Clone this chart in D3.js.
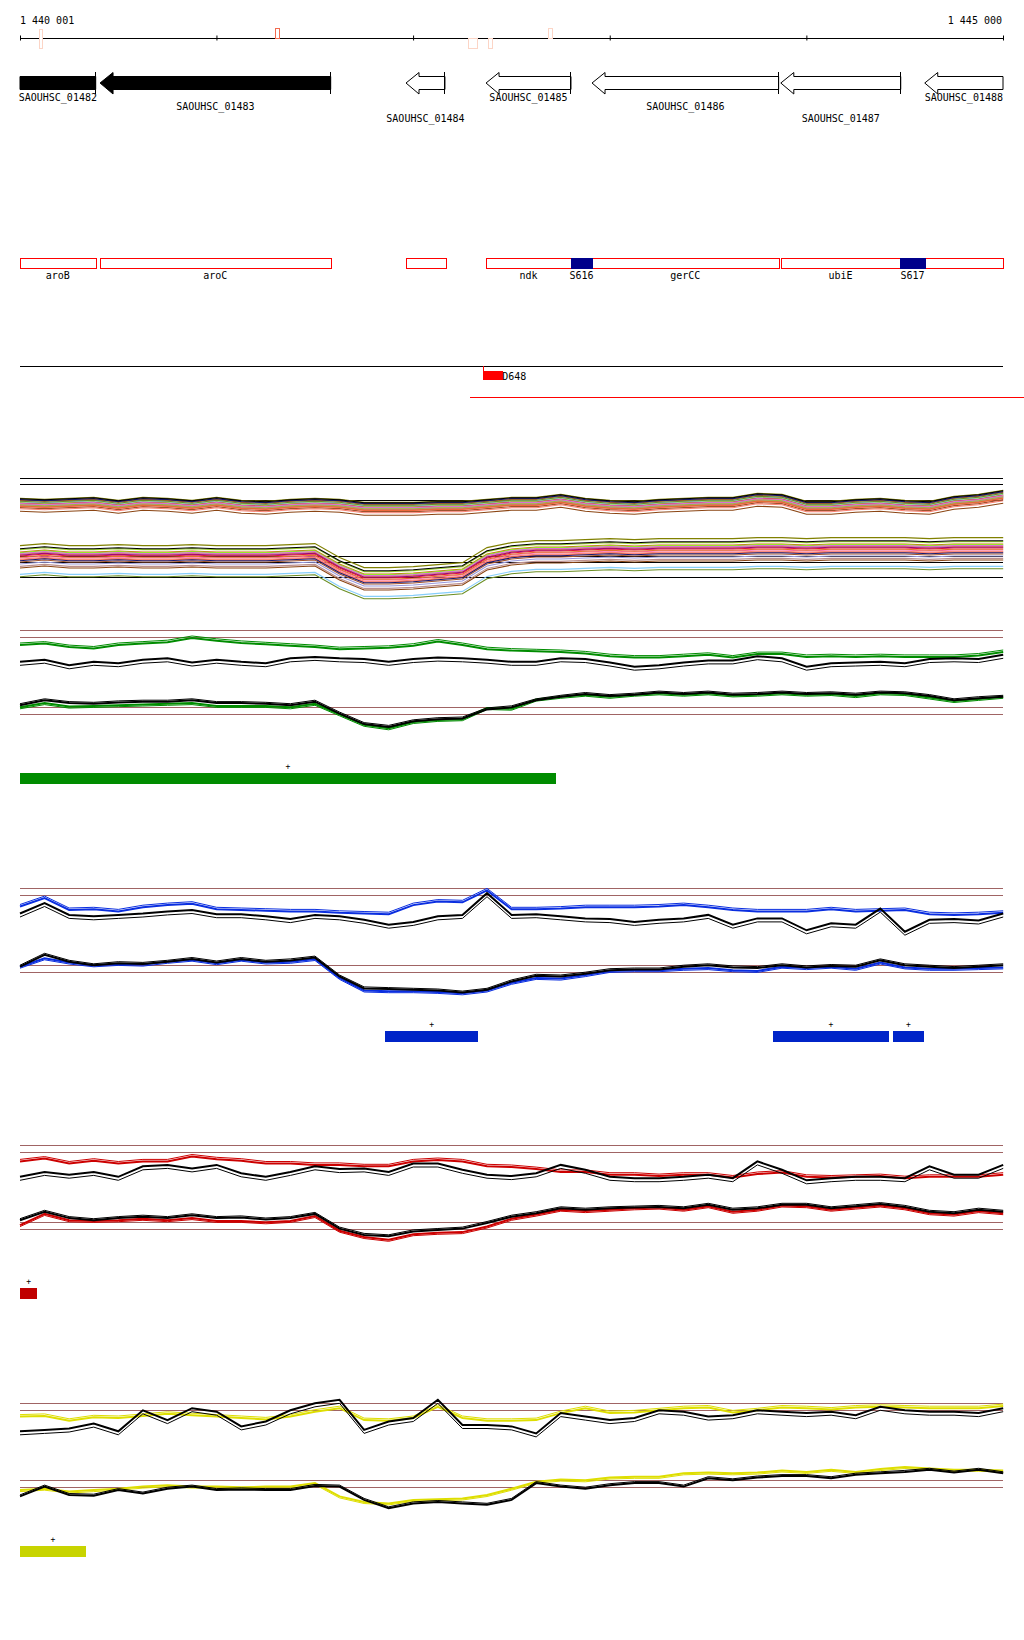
<!DOCTYPE html>
<html>
<head>
<meta charset="utf-8">
<script src="https://cdn.jsdelivr.net/npm/d3@7"></script>
<style>
  body { margin: 0; background: #fff; }
  text { font-family: "DejaVu Sans Mono", "Liberation Mono", monospace; font-size: 10px; fill: #000; }
</style>
</head>
<body>
<script>
// ---- region shown ----
const startBp = 1440001, endBp = 1445000;
const axisTicks = [1440001, 1441000, 1442000, 1443000, 1444000, 1445000];
const axisLabels = ["1 440 001", "1 445 000"];

// small sites on the ruler: [start, end, side, colour key]
const siteStarts = [1440098, 1441298, 1442279, 1442381, 1442686];
const siteEnds   = [1440111, 1441318, 1442325, 1442401, 1442706];
const siteSides  = ["both", "up", "down", "down", "up"];
const siteKinds  = ["pale", "strong", "pale", "pale", "pale"];

// genes
const geneNames  = ["SAOUHSC_01482", "SAOUHSC_01483", "SAOUHSC_01484", "SAOUHSC_01485", "SAOUHSC_01486", "SAOUHSC_01487", "SAOUHSC_01488"];
const geneStarts = [1439700, 1440408, 1441964, 1442371, 1442910, 1443870, 1444602];
const geneEnds   = [1440386, 1441581, 1442162, 1442803, 1443859, 1444480, 1445300];
const geneFilled = [true, true, false, false, false, false, false];
const geneRows   = [0, 1, 2, 0, 1, 2, 0];

// annotation features
const featNames  = ["aroB", "aroC", "", "ndk", "S616", "gerCC", "ubiE", "S617", ""];
const featStarts = [1439700, 1440408, 1441964, 1442371, 1442803, 1442910, 1443871, 1444476, 1444604];
const featEnds   = [1440386, 1441581, 1442166, 1442803, 1442910, 1443859, 1444476, 1444604, 1445300];
const featTypes  = ["cds", "cds", "cds", "cds", "srna", "cds", "cds", "srna", "cds"];

// region track
const regionName = "D648";
const regionStart = 1442356, regionEnd = 1442458;
const regionLineStart = 1442289, regionLineEnd = 1445200;

// profile bins (125 bp)
const binStep = 125;
const bins = d3.range(41).map(i => startBp + i * binStep);

// multi-condition cluster track
const clusterTopShape = [24.0,23.75,24.0,24.25,23.5,24.25,24.0,23.5,24.25,23.5,23.25,23.75,24.0,23.75,23.0,23.0,23.0,23.25,23.25,23.75,24.25,24.25,25.0,24.0,23.5,23.25,23.75,24.0,24.25,24.25,25.25,25.0,23.25,23.25,23.75,24.0,23.5,23.25,24.5,25.0,26.0];
const clusterBotShape = [11.0,11.5,11.0,11.0,11.25,11.0,11.0,11.25,11.0,11.0,11.0,11.25,11.5,8.0,5.5,5.5,5.75,6.25,6.75,10.5,11.75,12.25,12.25,12.5,12.75,12.5,12.75,12.75,12.75,12.75,13.0,13.0,12.75,13.0,13.0,13.0,13.0,12.75,13.0,13.0,13.0];
const clusterColors = ["#808000","#d2691e","#cd853f","#7cfc00","#ff69b4","#8b008b","#87cefa","#a0522d","#dc143c","#9999dd","#ff6347","#191970","#bc8f8f","#9acd32","#fa8072","#8b4513","#da70d6","#000000","#e07030","#6b8e23"];
const clusterTopOffsets = [1.4, 0.9, 0.5, 0.3, 0.0, -0.2, 0.6, -0.9, 0.2, -0.4, -0.6, 1.1, -0.3, -0.1, -1.2, -1.8, 0.1, 1.3, -0.5, 0.7];
const clusterBotOffsets = [2.6, 1.0, 0.4, 0.8, -0.5, 0.2, -4.6, -1.5, 0.0, -2.0, -1.0, -1.2, -2.6, 1.6, -0.8, -3.0, 0.6, 1.8, -0.3, -5.2];
const clusterRefs = [30.5, 29, 25, 11, 9.5, 5.75];

// condition panels (log signal)
const panelRefs = [12, 11, 1, 0];

const greenTop         = [9.9,10.1,9.6,9.4,9.9,10.1,10.3,10.9,10.5,10.2,10.0,9.8,9.6,9.3,9.4,9.5,9.8,10.4,9.9,9.3,9.1,9.0,8.9,8.7,8.3,8.1,8.1,8.3,8.5,8.1,8.6,8.6,8.2,8.3,8.2,8.3,8.2,8.2,8.2,8.4,8.9];
const greenTopBlack    = [7.5,7.8,7.0,7.5,7.3,7.8,8.0,7.4,7.8,7.5,7.3,8.0,8.2,8.0,7.9,7.5,7.9,8.1,8.0,7.8,7.5,7.5,8.0,7.9,7.4,6.8,7.0,7.4,7.7,7.7,8.3,8.0,6.8,7.3,7.4,7.5,7.3,7.9,8.0,7.9,8.5];
const greenBottom      = [1.0,1.6,1.1,1.2,1.3,1.4,1.5,1.6,1.2,1.2,1.2,1.0,1.5,0.0,-1.5,-2.0,-1.1,-0.8,-0.7,0.9,0.8,2.1,2.5,2.8,2.5,2.8,3.0,2.8,3.0,2.7,2.8,3.0,2.8,2.9,2.6,3.0,2.9,2.4,1.9,2.2,2.5];
const greenBottomBlack = [1.3,2.0,1.6,1.5,1.7,1.8,1.8,2.0,1.6,1.6,1.5,1.3,1.8,0.1,-1.4,-1.8,-1.0,-0.7,-0.6,0.7,1.0,2.0,2.5,2.9,2.6,2.8,3.1,2.9,3.1,2.8,2.9,3.1,2.9,3.0,2.8,3.1,3.0,2.6,2.0,2.3,2.5];
const greenBlockStarts = [1440001];
const greenBlockEnds   = [1442727];

const blueTop          = [9.4,10.6,8.9,9.0,8.7,9.3,9.6,9.8,9.0,8.9,8.8,8.7,8.7,8.5,8.4,8.3,9.6,10.1,10.0,11.7,9.0,9.0,9.1,9.3,9.3,9.3,9.4,9.6,9.3,8.9,8.7,8.7,8.7,9.0,8.7,8.8,8.9,8.3,8.2,8.3,8.5];
const blueTopBlack     = [8.4,9.9,8.2,8.0,8.2,8.4,8.7,8.9,8.3,8.3,8.0,7.6,8.2,8.0,7.5,6.8,7.2,8.0,8.2,11.3,8.2,8.3,8.0,7.7,7.6,7.2,7.5,7.7,8.2,6.8,7.7,7.7,6.0,7.0,6.8,9.1,5.8,7.5,7.6,7.4,8.4];
const blueBottom       = [0.8,2.0,1.4,1.0,1.2,1.1,1.5,1.8,1.3,1.8,1.4,1.5,1.9,-0.8,-2.6,-2.7,-2.7,-2.8,-3.0,-2.6,-1.5,-0.8,-0.9,-0.4,0.2,0.3,0.3,0.5,0.6,0.3,0.2,0.8,0.6,0.8,0.5,1.4,0.7,0.5,0.5,0.6,0.7];
const blueBottomBlack  = [0.8,2.5,1.5,1.0,1.3,1.2,1.5,1.9,1.4,1.9,1.5,1.7,2.1,-0.6,-2.3,-2.4,-2.5,-2.6,-2.9,-2.5,-1.3,-0.5,-0.6,-0.2,0.3,0.4,0.4,0.8,1.0,0.7,0.6,1.0,0.7,0.9,0.8,1.7,1.0,0.8,0.6,0.8,1.0];
const blueBlockStarts  = [1441859, 1443830, 1444440];
const blueBlockEnds    = [1442330, 1444420, 1444598];

const redTop           = [9.7,10.1,9.4,9.8,9.4,9.7,9.7,10.4,10.0,9.8,9.4,9.4,9.2,9.2,9.0,9.0,9.7,9.9,9.7,9.0,8.9,8.6,8.2,8.2,7.8,7.8,7.6,7.8,7.8,7.4,7.9,8.1,7.5,7.4,7.5,7.6,7.3,7.5,7.5,7.5,7.8];
const redTopBlack      = [7.5,8.2,7.8,8.2,7.5,9.0,9.2,8.7,9.2,8.0,7.5,8.2,9.0,8.6,8.7,8.2,9.4,9.4,8.5,7.8,7.6,8.0,9.2,8.5,7.5,7.3,7.3,7.5,7.8,7.3,9.7,8.5,7.0,7.3,7.5,7.5,7.3,9.0,7.8,7.8,9.2];
const redBottom        = [0.6,2.2,1.3,1.2,1.3,1.5,1.3,1.6,1.2,1.2,1.0,1.2,1.9,-0.2,-1.1,-1.5,-0.7,-0.5,-0.4,0.4,1.5,2.1,2.8,2.6,2.8,3.0,3.1,2.8,3.3,2.5,2.8,3.4,3.3,2.8,3.1,3.4,3.0,2.3,2.1,2.6,2.3];
const redBottomBlack   = [1.3,2.5,1.6,1.3,1.6,1.8,1.6,2.0,1.6,1.7,1.4,1.6,2.2,0.1,-0.8,-1.0,-0.3,-0.1,0.1,0.9,1.8,2.3,3.0,2.8,3.0,3.1,3.2,3.0,3.5,2.8,3.0,3.5,3.5,3.0,3.3,3.6,3.2,2.5,2.3,2.8,2.5];
const redBlockStarts   = [1440001];
const redBlockEnds     = [1440088];

const yellowTop         = [10.1,10.2,9.5,10.0,9.9,10.2,10.5,10.3,10.1,9.9,9.7,10.1,10.8,11.3,9.6,9.5,9.9,11.5,9.9,9.5,9.5,9.6,10.6,11.3,10.6,10.7,11.0,11.3,11.4,10.7,11.0,11.4,11.3,11.1,11.4,11.5,11.4,11.3,11.3,11.3,11.6];
const yellowTopBlack    = [8.0,8.2,8.4,9.1,8.0,11.0,9.6,11.3,10.8,8.7,9.4,11.0,12.0,12.5,8.2,9.4,9.9,12.5,8.9,8.9,8.7,7.7,10.6,10.1,9.6,9.9,11.0,10.8,10.1,10.3,11.0,10.8,10.6,10.8,10.3,11.5,11.0,10.8,10.8,10.6,11.3];
const yellowBottom      = [-0.4,-0.2,-0.6,-0.4,-0.2,0.1,0.3,0.1,0.1,0.0,0.1,0.1,0.6,-1.3,-2.1,-2.3,-1.8,-1.7,-1.6,-1.1,-0.2,0.8,1.1,1.0,1.4,1.5,1.5,2.0,2.1,2.0,2.1,2.4,2.2,2.5,2.2,2.6,2.9,2.7,2.5,2.5,2.4];
const yellowBottomBlack = [-1.3,0.1,-1.1,-1.2,-0.4,-0.9,-0.2,0.1,-0.4,-0.3,-0.4,-0.4,0.2,0.1,-1.8,-3.0,-2.3,-2.1,-2.3,-2.5,-1.8,0.6,0.1,-0.2,0.3,0.6,0.6,0.1,1.3,1.0,1.4,1.6,1.6,1.3,1.8,2.0,2.2,2.5,2.1,2.5,2.0];
const yellowBlockStarts = [1440001];
const yellowBlockEnds   = [1440335];

// ---- drawing ----
const W = 1024, H = 1640;
const left = 20, right = 1003;

const x = d3.scaleLinear().domain([startBp, endBp]).range([left, right]);
const clampX = bp => x(Math.max(startBp, Math.min(endBp, bp)));

const svg = d3.select("body").append("svg")
  .attr("width", W).attr("height", H);

svg.append("rect").attr("width", W).attr("height", H).attr("fill", "#fff");

// ruler
const ruler = svg.append("g").attr("transform", "translate(0,38)");
ruler.call(d3.axisBottom(x).tickValues(axisTicks).tickSizeOuter(0).tickFormat(""));
ruler.select(".domain").attr("stroke", "#000");
ruler.selectAll(".tick line").attr("y1", -2.5).attr("y2", 2.5).attr("stroke", "#000");

svg.append("text").attr("x", left).attr("y", 24).text(axisLabels[0]);
svg.append("text").attr("x", right - 1).attr("y", 24).attr("text-anchor", "end").text(axisLabels[1]);

// sites on the ruler
siteStarts.forEach((s, i) => {
  let y0 = 28, y1 = 38;
  if (siteSides[i] == "both") { y0 = 29; y1 = 48; }
  if (siteSides[i] == "down") { y0 = 38; y1 = 48; }
  svg.append("rect")
    .attr("x", x(s) + 0.5).attr("y", y0 + 0.5)
    .attr("width", Math.max(2, x(siteEnds[i]) - x(s)))
    .attr("height", y1 - y0)
    .attr("fill", "#fff")
    .attr("stroke", siteKinds[i] == "strong" ? "#f26b4f" : "#fcd5c6")
    .attr("shape-rendering", "crispEdges");
});

// genes
const genes = svg.append("g");
geneNames.forEach((name, i) => {
  const clipL = geneStarts[i] < startBp, clipR = geneEnds[i] > endBp;
  const x0 = clampX(geneStarts[i]), x1 = clampX(geneEnds[i]);
  const head = clipL ? 0 : 13;
  const p = d3.path();
  if (head) {
    p.moveTo(x0, 83);
    p.lineTo(x0 + head, 72.5);
    p.lineTo(x0 + head, 76.5);
  } else {
    p.moveTo(x0, 76.5);
  }
  p.lineTo(x1, 76.5);
  p.lineTo(x1, 89.5);
  p.lineTo(x0 + head, 89.5);
  if (head) p.lineTo(x0 + head, 94);
  p.closePath();
  genes.append("path").attr("d", p.toString())
    .attr("fill", geneFilled[i] ? "#000" : "#fff")
    .attr("stroke", "#000").attr("stroke-width", 1);
  if (!clipR) {
    genes.append("line").attr("x1", x1).attr("x2", x1).attr("y1", 72).attr("y2", 94)
      .attr("stroke", "#000").attr("shape-rendering", "crispEdges");
  }
  genes.append("text")
    .attr("x", (x0 + x1) / 2).attr("y", [101, 110, 122][geneRows[i]])
    .attr("text-anchor", "middle").text(name);
});

// features
const feats = svg.append("g");
featNames.forEach((name, i) => {
  const x0 = clampX(featStarts[i]), x1 = clampX(featEnds[i]);
  const srna = featTypes[i] == "srna";
  feats.append("rect")
    .attr("x", x0 + 0.5).attr("y", 258.5)
    .attr("width", x1 - x0).attr("height", 10)
    .attr("fill", srna ? "#00008b" : "#fff")
    .attr("stroke", srna ? "#00008b" : "#f00")
    .attr("shape-rendering", "crispEdges");
  if (name) {
    feats.append("text").attr("x", (x0 + x1) / 2).attr("y", 279)
      .attr("text-anchor", "middle").text(name);
  }
});
feats.selectAll("rect").filter((d, i) => featTypes[i] == "srna").raise();

// region track
svg.append("line").attr("x1", left).attr("x2", right).attr("y1", 366.5).attr("y2", 366.5)
  .attr("stroke", "#000").attr("shape-rendering", "crispEdges");
svg.append("line").attr("x1", x(regionStart) + 0.5).attr("x2", x(regionStart) + 0.5)
  .attr("y1", 366).attr("y2", 372).attr("stroke", "#f00").attr("shape-rendering", "crispEdges");
svg.append("rect").attr("x", x(regionStart)).attr("y", 371)
  .attr("width", x(regionEnd) - x(regionStart)).attr("height", 9)
  .attr("fill", "#f00").attr("shape-rendering", "crispEdges");
svg.append("text").attr("x", x(regionEnd) - 1).attr("y", 380).text(regionName);
svg.append("line").attr("x1", x(regionLineStart)).attr("x2", W)
  .attr("y1", 397.5).attr("y2", 397.5).attr("stroke", "#f00").attr("shape-rendering", "crispEdges");

// cluster track
const cy = d3.scaleLinear().domain([0, 30]).range([600, 480]);
const cluster = svg.append("g");
clusterRefs.forEach(v => {
  cluster.append("line").attr("x1", left).attr("x2", right)
    .attr("y1", Math.round(cy(v)) + 0.5).attr("y2", Math.round(cy(v)) + 0.5)
    .attr("stroke", "#000").attr("shape-rendering", "crispEdges");
});
clusterColors.forEach((c, k) => {
  [[clusterTopShape, clusterTopOffsets[k]], [clusterBotShape, clusterBotOffsets[k]]].forEach(([shape, off]) => {
    const line = d3.line()
      .x((d, i) => x(bins[i]))
      .y(d => cy(d + off))
      .curve(d3.curveLinear);
    cluster.append("path").datum(shape)
      .attr("d", line)
      .attr("fill", "none").attr("stroke", c).attr("stroke-width", 1.1);
  });
});

// condition panels
const panels = [
  { top: 629.3, color: "#008c00", bar: "#008c00", lines: [greenTop, greenTopBlack, greenBottom, greenBottomBlack], starts: greenBlockStarts, ends: greenBlockEnds },
  { top: 887.3, color: "#0a2ee0", bar: "#0024c8", lines: [blueTop, blueTopBlack, blueBottom, blueBottomBlack], starts: blueBlockStarts, ends: blueBlockEnds },
  { top: 1144.3, color: "#cc0000", bar: "#c00000", lines: [redTop, redTopBlack, redBottom, redBottomBlack], starts: redBlockStarts, ends: redBlockEnds },
  { top: 1402.3, color: "#dede00", bar: "#c8d400", lines: [yellowTop, yellowTopBlack, yellowBottom, yellowBottomBlack], starts: yellowBlockStarts, ends: yellowBlockEnds }
];

panels.forEach(p => {
  const g = svg.append("g");
  const y = d3.scaleLinear().domain([0, 12]).range([p.top + 85, p.top + 1]);

  panelRefs.forEach(v => {
    g.append("line").attr("x1", left).attr("x2", right)
      .attr("y1", Math.round(y(v)) + 0.5).attr("y2", Math.round(y(v)) + 0.5)
      .attr("stroke", "#a06464").attr("shape-rendering", "crispEdges");
  });

  const line = d3.line().x((d, i) => x(bins[i])).y(d => y(d)).curve(d3.curveLinear);
  // each condition: replicate (thin, shifted) + mean (thick)
  const styles = [
    { c: p.color, shift: -2 }, { c: "#000", shift: 3.5 },
    { c: p.color, shift: 1.5 }, { c: "#000", shift: -1.5 }
  ];
  p.lines.forEach((vals, k) => {
    g.append("path").datum(vals).attr("d", line)
      .attr("transform", `translate(0,${styles[k].shift})`)
      .attr("fill", "none").attr("stroke", styles[k].c).attr("stroke-width", 1);
    g.append("path").datum(vals).attr("d", line)
      .attr("fill", "none").attr("stroke", styles[k].c).attr("stroke-width", 2);
  });

  p.starts.forEach((s, i) => {
    const x0 = x(s), x1 = x(p.ends[i]);
    g.append("rect").attr("x", x0).attr("y", p.top + 143.5)
      .attr("width", x1 - x0).attr("height", 11)
      .attr("fill", p.bar).attr("shape-rendering", "crispEdges");
    g.append("text").attr("x", (x0 + x1) / 2).attr("y", p.top + 140)
      .attr("text-anchor", "middle").style("font-size", "8px").text("+");
  });
});
</script>
</body>
</html>
